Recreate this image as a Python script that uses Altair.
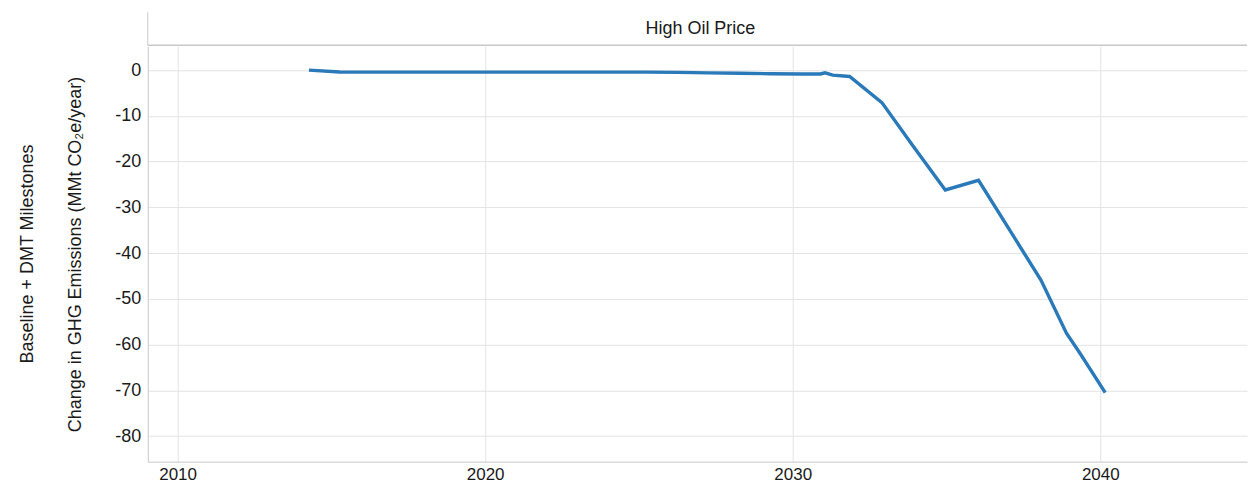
import altair as alt
import pandas as pd

# ---- data ----
years = [2014.27, 2015.27, 2016.27, 2017.27, 2018.27, 2019.27, 2020.27, 2021.27,
         2022.27, 2023.27, 2024.27, 2025.27, 2026.27, 2027.27, 2028.27, 2029.27,
         2030.27, 2030.9, 2031.05, 2031.3, 2031.85, 2032.9, 2033.9, 2034.96,
         2036.04, 2037.0, 2038.07, 2038.9, 2039.35, 2040.16]
change = [0.0, -0.4, -0.45, -0.45, -0.45, -0.45, -0.45, -0.45,
          -0.45, -0.45, -0.45, -0.45, -0.5, -0.6, -0.7, -0.8,
          -0.85, -0.85, -0.6, -1.1, -1.4, -7.1, -16.5, -26.2,
          -24.1, -34.4, -45.9, -57.5, -62.0, -70.5]

x_ticks = [2010, 2020, 2030, 2040]
y_ticks = [-80, -70, -60, -50, -40, -30, -20, -10, 0]

facet_col = "High Oil Price"
facet_row = "Baseline + DMT Milestones"
y_title = "Change in GHG Emissions (MMt CO\u2082e/year)"

df = pd.DataFrame({"year": years, "change": change})

W = 1101
H_MAIN = 416
H_HEAD = 33
FONT = "Liberation Sans"
TXT = "#1a1a1a"
FRAME = "#c8c8c8"
GRID = "#e3e3e3"

line = alt.Chart(df).mark_line(color="#2a79b9", strokeWidth=3.4).encode(
    x=alt.X("year:Q",
            scale=alt.Scale(domain=[2009.03, 2044.77], nice=False, zero=False),
            axis=alt.Axis(values=x_ticks, labelExpr="'' + datum.value", title=None,
                          labelFontSize=17, labelColor=TXT, labelFont=FONT,
                          labelPadding=5, ticks=False, domainColor=FRAME,
                          gridColor=GRID, labelFlush=False)),
    y=alt.Y("change:Q",
            scale=alt.Scale(domain=[-85.6, 5.2], nice=False, zero=False),
            axis=alt.Axis(values=y_ticks, labelExpr="'' + datum.value",
                          title=y_title, titleFontSize=18,
                          titleFontWeight="normal", titleColor=TXT, titleFont=FONT,
                          titleX=-72, titleY=H_MAIN / 2, titleBaseline="middle",
                          labelFontSize=18, labelColor=TXT, labelFont=FONT,
                          labelPadding=7, ticks=False, domainColor=FRAME,
                          gridColor=GRID)),
)

row_df = pd.DataFrame({"t": [facet_row]})
row_label = alt.Chart(row_df).mark_text(
    angle=270, fontSize=18, font=FONT, color=TXT, align="center", baseline="middle"
).encode(x=alt.value(-120), y=alt.value(H_MAIN / 2), text="t:N")

main = alt.layer(line, row_label).properties(width=W, height=H_MAIN)

head_df = pd.DataFrame({"t": [facet_col]})
head_text = alt.Chart(head_df).mark_text(
    fontSize=18, font=FONT, color=TXT, align="center", baseline="middle"
).encode(x=alt.value(W / 2 + 3), y=alt.value(H_HEAD / 2), text="t:N")
head_left = alt.Chart(head_df).mark_rule(color=FRAME, strokeWidth=1).encode(
    x=alt.value(0), y=alt.value(0), y2=alt.value(H_HEAD))
head_bottom = alt.Chart(head_df).mark_rule(color=FRAME, strokeWidth=1.5).encode(
    x=alt.value(0), x2=alt.value(W), y=alt.value(H_HEAD))
head = alt.layer(head_left, head_bottom, head_text).properties(width=W, height=H_HEAD)

chart = alt.vconcat(head, main, spacing=0).configure_view(stroke=None).properties(
    padding={"left": 11, "top": 3, "right": 0, "bottom": 0}
)

chart.save("out.html", embed_options={"renderer": "svg", "actions": False})
